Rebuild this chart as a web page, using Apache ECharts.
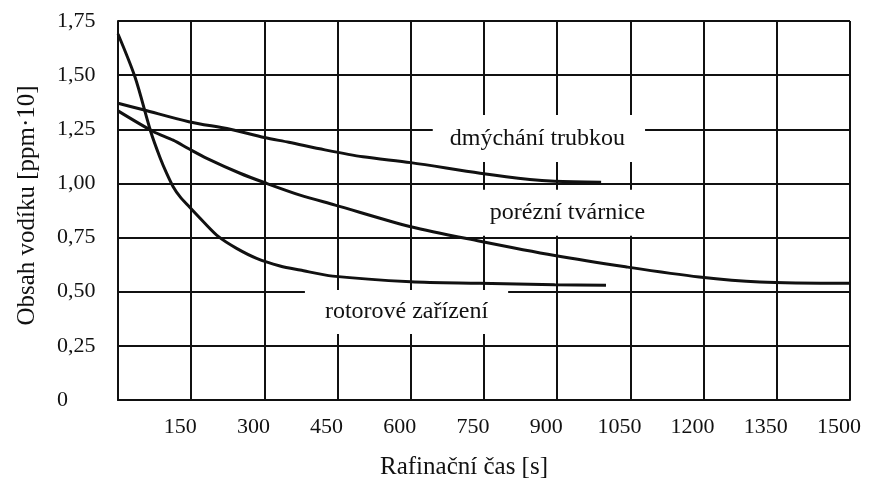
<!DOCTYPE html>
<html>
<head>
<meta charset="utf-8">
<script src="https://cdn.jsdelivr.net/npm/echarts@6/dist/echarts.min.js"></script>
<style>
  html, body { margin: 0; padding: 0; background: #fff; }
  #chart { width: 869px; height: 481px; }
</style>
</head>
<body>
<div id="chart"></div>
<script>
// data
const xTicks = [0, 150, 300, 450, 600, 750, 900, 1050, 1200, 1350, 1500]
const yTicks = [0, 0.25, 0.5, 0.75, 1.0, 1.25, 1.5, 1.75]

// rotorové zařízení
const rotorT = [0, 35, 67, 86, 100, 113, 127, 146, 175, 206, 243, 284, 332, 373, 440, 600, 740, 895, 1000]
const rotorV = [1.69, 1.49, 1.24, 1.12, 1.045, 0.985, 0.939, 0.892, 0.823, 0.754, 0.70, 0.654, 0.619, 0.60, 0.572, 0.546, 0.539, 0.532, 0.53]

// dmýchání trubkou
const dmyT = [0, 52, 145, 230, 300, 350, 424, 502, 600, 742, 844, 895, 990]
const dmyV = [1.37, 1.34, 1.285, 1.25, 1.212, 1.19, 1.155, 1.123, 1.096, 1.047, 1.018, 1.01, 1.006]

// porézní tvárnice
const porT = [0, 72, 113, 145, 182, 250, 301, 373, 445, 600, 742, 895, 1040, 1191, 1315, 1500]
const porV = [1.335, 1.24, 1.20, 1.16, 1.116, 1.047, 1.003, 0.946, 0.90, 0.80, 0.733, 0.667, 0.615, 0.568, 0.545, 0.539]

// curve captions and where they sit (data coords of the label box's left/middle)
const captions = ['dmýchání trubkou', 'porézní tvárnice', 'rotorové zařízení']
const captionAt = [[645, 1.207], [721, 0.865], [383, 0.406]]

const FONT = '"Liberation Serif", "DejaVu Serif", serif'
const INK = '#111'

const pairs = (t, v) => t.map((x, i) => [x, v[i]])

const chart = echarts.init(document.getElementById('chart'))

const captionLabel = (i, pad) => ({
  coord: captionAt[i],
  value: captions[i],
  label: {
    show: true,
    position: 'inside',
    align: 'left',
    verticalAlign: 'middle',
    formatter: captions[i],
    fontFamily: FONT,
    fontSize: 24,
    color: INK,
    backgroundColor: '#fff',
    padding: pad
  }
})

const lineSeries = (name, t, v, caption) => ({
  name: name,
  type: 'line',
  data: pairs(t, v),
  smooth: 0.3,
  showSymbol: false,
  lineStyle: { color: INK, width: 3 },
  markPoint: {
    symbol: 'rect',
    symbolSize: 0,
    silent: true,
    data: caption
  }
})

const option = {
  animation: false,
  grid: { left: 118, right: 19, top: 21, bottom: 81, outerBoundsMode: 'none' },
  xAxis: {
    type: 'value',
    min: 0,
    max: 1500,
    interval: 150,
    name: 'Rafinační čas [s]',
    nameLocation: 'middle',
    nameGap: 55,
    nameTextStyle: { fontFamily: FONT, fontSize: 25, color: INK, padding: [0, 40, 0, 0] },
    axisLine: { lineStyle: { color: INK, width: 2 } },
    axisTick: { show: false },
    axisLabel: {
      fontFamily: FONT, fontSize: 22, color: INK, margin: 16,
      padding: [0, 22, 0, 0],
      formatter: v => (v === 0 ? '' : String(v))
    },
    splitLine: { show: true, lineStyle: { color: INK, width: 2 } }
  },
  yAxis: {
    type: 'value',
    min: 0,
    max: 1.75,
    interval: 0.25,
    name: 'Obsah vodíku [ppm·10]',
    nameLocation: 'middle',
    nameGap: 78,
    nameTextStyle: { fontFamily: FONT, fontSize: 25, color: INK, padding: [0, 0, 0, 10] },
    axisLine: { show: true, lineStyle: { color: INK, width: 2 } },
    axisTick: { show: false },
    axisLabel: {
      fontFamily: FONT, fontSize: 22, color: INK, margin: 61, align: 'left',
      padding: [8, 0, 0, 0],
      formatter: v => (v === 0 ? '0' : v.toFixed(2).replace('.', ','))
    },
    splitLine: { show: true, lineStyle: { color: INK, width: 2 } }
  },
  series: [
    lineSeries('rotorové zařízení', rotorT, rotorV, [captionLabel(2, [10, 20, 10, 20])]),
    lineSeries('porézní tvárnice', porT, porV, [captionLabel(1, [12, 20, 10, 20])]),
    lineSeries('dmýchání trubkou', dmyT, dmyV, [captionLabel(0, [12, 20, 11, 17])])
  ]
}

chart.setOption(option)
</script>
</body>
</html>
